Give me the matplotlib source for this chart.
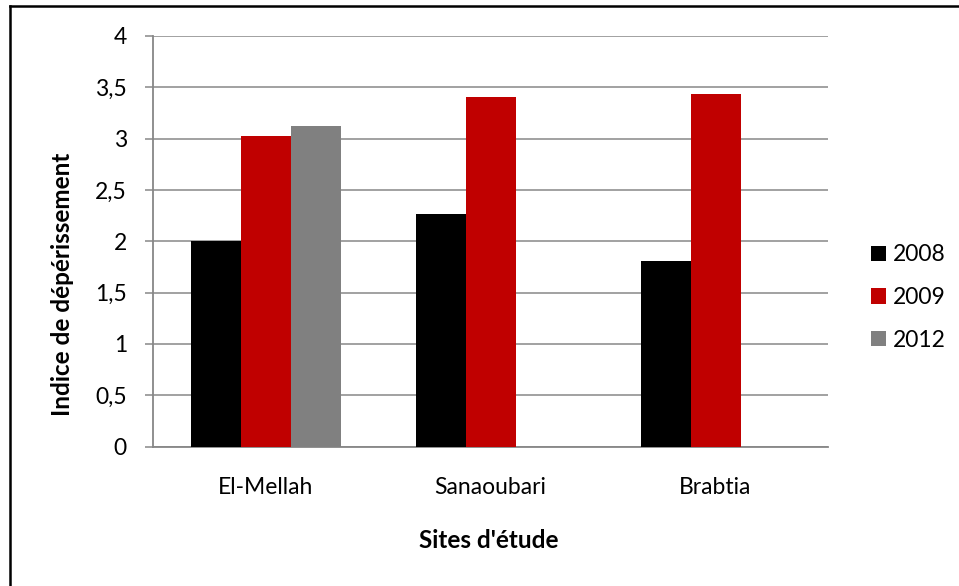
import numpy as np
import matplotlib
matplotlib.use("Agg")
import matplotlib.pyplot as plt
from matplotlib.lines import Line2D

# ---- data ----
sites = ["El-Mellah", "Sanaoubari", "Brabtia"]
years = ["2008", "2009", "2012"]
v2008 = [2.00, 2.27, 1.81]
v2009 = [3.03, 3.41, 3.43]
v2012 = [3.12, np.nan, np.nan]
ytick_values = [0, 0.5, 1, 1.5, 2, 2.5, 3, 3.5, 4]
ytick_labels = ["0", "0,5", "1", "1,5", "2", "2,5", "3", "3,5", "4"]
ylabel = "Indice de dépérissement"
xlabel = "Sites d'étude"

colors = ["#000000", "#C00000", "#808080"]
FONT = ["Lato", "DejaVu Sans"]
plt.rcParams['font.family'] = FONT

W, H = 959, 586
fig = plt.figure(figsize=(W / 100, H / 100), dpi=100)
left, right, top, bottom = 153, 828, 36, 446.5
ax = fig.add_axes([left / W, 1 - bottom / H, (right - left) / W, (bottom - top) / H])

x = np.arange(len(sites))
bw = 1 / 4.5
series = [v2008, v2009, v2012]
for i, (vals, yr, c) in enumerate(zip(series, years, colors)):
    ax.bar(x + (i - 1) * bw, vals, width=bw, color=c, linewidth=0, label=yr, zorder=3)

ax.set_xlim(-0.5, len(sites) - 0.5)
ax.set_ylim(0, 4)
ax.set_yticks(ytick_values)
ax.set_yticklabels(ytick_labels)
ax.set_xticks(x)
ax.set_xticklabels(sites)

grid_c = "#878787"
ax.yaxis.grid(True, color=grid_c, linewidth=1.1, zorder=0)
ax.set_axisbelow(True)
for s in ["top", "right"]:
    ax.spines[s].set_visible(False)
for s in ["left", "bottom"]:
    ax.spines[s].set_color(grid_c)
    ax.spines[s].set_linewidth(1.3)
ax.tick_params(axis="y", length=5.8, width=1.1, color=grid_c, pad=13, labelsize=16.5, labelcolor="black")
ax.tick_params(axis="x", length=0, pad=22, labelsize=16.5, labelcolor="black")

ax.set_ylabel(ylabel, fontsize=17.5, fontweight="bold", va="center", ha="center")
ax.yaxis.set_label_coords((62 - left) / (right - left), (bottom - 284.5) / (bottom - top))
ax.set_xlabel(xlabel, fontsize=17.5, fontweight="bold", va="center", ha="center")
ax.xaxis.set_label_coords((489 - left) / (right - left), (bottom - 541) / (bottom - top))

leg = fig.legend(loc="center left", bbox_to_anchor=(871 / W, 1 - 297.5 / H),
                 frameon=False, fontsize=16.5, borderpad=0, borderaxespad=0,
                 handlelength=0.65, handleheight=0.65, handletextpad=0.32,
                 labelspacing=0.95)

# outer border (top and left edges visible)
fig.add_artist(Line2D([9.5 / W, 1], [1 - 6 / H, 1 - 6 / H], transform=fig.transFigure,
                      color="black", linewidth=1.8, solid_capstyle="projecting"))
fig.add_artist(Line2D([9.5 / W, 9.5 / W], [1 - 6 / H, 0], transform=fig.transFigure,
                      color="black", linewidth=1.8, solid_capstyle="projecting"))

fig.savefig("out.png", dpi=100)
